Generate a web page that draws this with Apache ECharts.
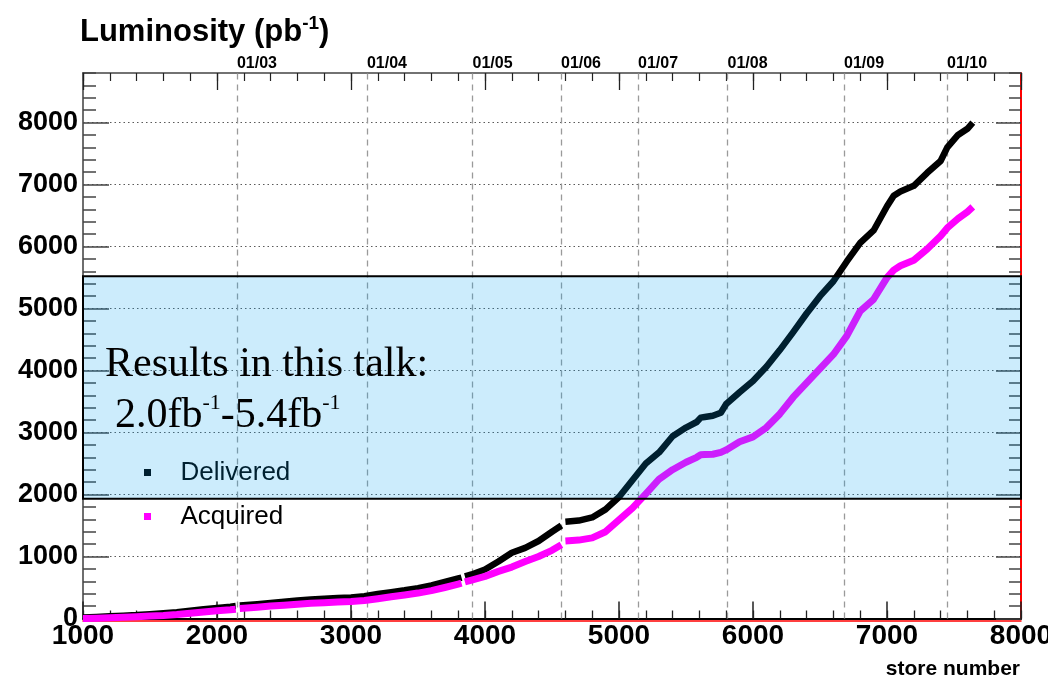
<!DOCTYPE html>
<html>
<head>
<meta charset="utf-8">
<script src="https://cdn.jsdelivr.net/npm/echarts@6/dist/echarts.min.js"></script>
<style>
  html, body { margin: 0; padding: 0; background: #fff; }
  #chart { width: 1048px; height: 680px; }
</style>
</head>
<body>
<div id="chart"></div>
<script>
// Integrated luminosity vs. store number (pb^-1)
const stores = [1000, 1100, 1200, 1300, 1400, 1500, 1600, 1700, 1800, 1900, 2000, 2100, 2140, 2155, 2170,
  2300, 2400, 2500, 2600, 2700, 2800, 2900, 3000, 3100, 3200, 3300, 3400, 3500, 3600, 3700, 3800, 3825, 3838,
  3850, 3900, 4000, 4100, 4200, 4300, 4400, 4500, 4570, 4585, 4600, 4700, 4800, 4900, 5000, 5100, 5200, 5300,
  5400, 5500, 5580, 5610, 5640, 5700, 5760, 5800, 5900, 6000, 6100, 6200, 6300, 6400, 6500, 6600, 6700, 6800,
  6900, 7000, 7050, 7100, 7200, 7300, 7400, 7450, 7530, 7600, 7640];

const delivered = [15, 25, 35, 45, 55, 70, 85, 100, 125, 150, 170, 190, 200, null, 210,
  230, 250, 270, 290, 305, 320, 330, 340, 360, 395, 425, 455, 490, 535, 590, 645, 660, null,
  680, 710, 790, 920, 1060, 1140, 1250, 1400, 1500, null, 1560, 1580, 1630, 1760, 1960, 2230, 2500, 2680,
  2940, 3080, 3170, 3240, 3250, 3270, 3320, 3460, 3650, 3830, 4060, 4330, 4620, 4920, 5200, 5440, 5760, 6060,
  6260, 6650, 6820, 6890, 6980, 7190, 7380, 7600, 7800, 7900, 8000];

const acquired = [0, 5, 12, 20, 30, 40, 50, 65, 85, 105, 125, 140, 150, null, 160,
  180, 200, 215, 230, 245, 255, 265, 275, 290, 320, 350, 380, 410, 450, 500, 555, 570, null,
  590, 620, 680, 760, 830, 920, 1000, 1100, 1190, null, 1250, 1265, 1300, 1400, 1590, 1780, 2010, 2250,
  2400, 2520, 2600, 2640, 2645, 2650, 2680, 2720, 2850, 2930, 3080, 3300, 3570, 3800, 4030, 4260, 4560, 4960,
  5150, 5500, 5620, 5690, 5780, 5960, 6170, 6300, 6450, 6560, 6640];

// Year boundaries (store number at 1 January)
const dateStores = [2149, 3119, 3907, 4567, 5142, 5810, 6679, 7448];
const dateLabels = ['01/03', '01/04', '01/05', '01/06', '01/07', '01/08', '01/09', '01/10'];

// Axis ticks
const xMajorTicks = [1000, 2000, 3000, 4000, 5000, 6000, 7000, 8000];
const yMajorTicks = [0, 1000, 2000, 3000, 4000, 5000, 6000, 7000, 8000];

// Range of the analysed samples (pb^-1)
const resultsBand = [1930, 5520];

const SANS = "'Liberation Sans', Arial, Helvetica, sans-serif";
const SERIF = "'Liberation Serif', 'Times New Roman', serif";

const toPairs = vals => stores.map((s, i) => [s, vals[i] === null ? '-' : vals[i]]);
const plainNumber = v => String(v);

const X_MIN = 1000, X_MAX = 8000, Y_MIN = 0, Y_MAX = 8800;

function xAxisBase(extra) {
  return Object.assign({
    type: 'value', gridIndex: 0, min: X_MIN, max: X_MAX,
    axisLine: { show: false, onZero: false },
    axisTick: { show: false },
    axisLabel: { show: false },
    splitLine: { show: false }
  }, extra);
}
function yAxisBase(extra) {
  return Object.assign({
    type: 'value', gridIndex: 0, min: Y_MIN, max: Y_MAX,
    axisLine: { show: false, onZero: false },
    axisTick: { show: false },
    axisLabel: { show: false },
    splitLine: { show: false }
  }, extra);
}

const chart = echarts.init(document.getElementById('chart'), null, { renderer: 'canvas' });

const option = {
  animation: false,
  backgroundColor: '#ffffff',
  grid: { left: 83, right: 27, top: 73, bottom: 61.5, containLabel: false, outerBoundsMode: 'none' },
  xAxis: [
    // bottom: labels and major ticks
    xAxisBase({
      position: 'bottom', interval: 1000,
      axisLine: { show: true, onZero: false, lineStyle: { color: '#000', width: 2 } },
      axisTick: { show: true, inside: true, length: 17, customValues: xMajorTicks, lineStyle: { color: '#222', width: 1.5 } },
      axisLabel: { show: true, customValues: xMajorTicks, formatter: plainNumber, margin: 4, fontSize: 28, fontWeight: 'bold', fontFamily: SANS, color: '#000' }
    }),
    // bottom: minor ticks
    xAxisBase({
      position: 'bottom', interval: 200,
      axisTick: { show: true, inside: true, length: 8, lineStyle: { color: '#222', width: 1.3 } }
    }),
    // top: major ticks
    xAxisBase({
      position: 'top', interval: 1000,
      axisLine: { show: true, onZero: false, lineStyle: { color: '#444', width: 1.5 } },
      axisTick: { show: true, inside: true, length: 17, customValues: xMajorTicks, lineStyle: { color: '#222', width: 1.3 } }
    }),
    // top: minor ticks
    xAxisBase({
      position: 'top', interval: 200,
      axisTick: { show: true, inside: true, length: 8, lineStyle: { color: '#222', width: 1.2 } }
    }),
    // top: calendar labels
    xAxisBase({
      position: 'top', interval: 1000,
      axisLabel: {
        show: true, customValues: dateStores, align: 'left', margin: 1,
        fontSize: 16, fontWeight: 'bold', fontFamily: SANS, color: '#000',
        formatter: v => dateLabels[dateStores.indexOf(v)] || ''
      }
    }),
    // red frame edge under the bottom axis
    xAxisBase({
      position: 'bottom', offset: 2, interval: 1000,
      axisLine: { show: true, onZero: false, lineStyle: { color: '#ff0000', width: 1.5 } }
    })
  ],
  yAxis: [
    // left: labels, major ticks, dotted grid
    yAxisBase({
      position: 'left', interval: 1000,
      axisLine: { show: true, onZero: false, lineStyle: { color: '#6e6e6e', width: 2 } },
      axisTick: { show: true, inside: true, length: 26, customValues: yMajorTicks, lineStyle: { color: '#444', width: 1.5 } },
      axisLabel: { show: true, customValues: yMajorTicks, formatter: plainNumber, margin: 5, fontSize: 27, fontWeight: 'bold', fontFamily: SANS, color: '#000' },
      splitLine: { show: true, lineStyle: { color: '#5a5a5a', width: 1, type: [1.5, 3] } }
    }),
    // left: minor ticks
    yAxisBase({
      position: 'left', interval: 200,
      axisTick: { show: true, inside: true, length: 13, lineStyle: { color: '#444', width: 1.5 } }
    }),
    // right: major ticks
    yAxisBase({
      position: 'right', interval: 1000,
      axisLine: { show: true, onZero: false, lineStyle: { color: '#ff0000', width: 2 } },
      axisTick: { show: true, inside: true, length: 25, customValues: yMajorTicks, lineStyle: { color: '#444', width: 1.5 } }
    }),
    // right: minor ticks
    yAxisBase({
      position: 'right', interval: 200,
      axisTick: { show: true, inside: true, length: 12, lineStyle: { color: '#444', width: 1.5 } }
    })
  ],
  legend: {
    data: ['Delivered', 'Acquired'],
    orient: 'vertical',
    left: 139, top: 452.5,
    icon: 'path://M0 0H10V10H0Z',
    itemWidth: 56, itemHeight: 7, itemGap: 14,
    symbolKeepAspect: true,
    selectedMode: false,
    textStyle: { fontSize: 26, fontFamily: SANS, color: '#000', lineHeight: 30 }
  },
  series: [
    {
      name: 'Delivered', type: 'line', xAxisIndex: 0, yAxisIndex: 0,
      data: toPairs(delivered), showSymbol: false, connectNulls: false, z: 3,
      color: '#000000',
      lineStyle: { color: '#000000', width: 6.5, cap: 'butt', join: 'round' },
      markLine: {
        silent: true, symbol: ['none', 'none'], z: 1,
        label: { show: false },
        lineStyle: { color: '#9a9a9a', width: 1.3, type: [6, 5] },
        data: dateStores.map(v => ({ xAxis: v }))
      }
    },
    {
      name: 'Acquired', type: 'line', xAxisIndex: 0, yAxisIndex: 0,
      data: toPairs(acquired), showSymbol: false, connectNulls: false, z: 4,
      color: '#ff00ff',
      lineStyle: { color: '#ff00ff', width: 7, cap: 'butt', join: 'round' },
      markArea: {
        silent: true, z: 10,
        itemStyle: { color: 'rgba(0,160,240,0.2)', borderColor: '#000', borderWidth: 2 },
        label: { show: false },
        data: [[{ xAxis: X_MIN, yAxis: resultsBand[0] }, { xAxis: X_MAX, yAxis: resultsBand[1] }]]
      }
    }
  ],
  graphic: {
    elements: [
      {
        type: 'text', left: 80, top: 14, z: 20,
        style: {
          text: '{a|Luminosity (pb}{s|-1}{a|)}',
          rich: {
            a: { fontSize: 31, fontWeight: 'bold', fontFamily: SANS, fill: '#000', lineHeight: 37 },
            s: { fontSize: 19, fontWeight: 'bold', fontFamily: SANS, fill: '#000', lineHeight: 20, verticalAlign: 'top' }
          }
        }
      },
      {
        type: 'text', x: 105, y: 365, z: 20,
        style: {
          text: 'Results in this talk:',
          font: "42px 'Liberation Serif', 'Times New Roman', serif",
          fill: '#000', verticalAlign: 'middle', align: 'left'
        }
      },
      {
        type: 'text', x: 115, y: 416, z: 20,
        style: {
          text: '{n|2.0fb}{s|-1}{n|-5.4fb}{s|-1}',
          verticalAlign: 'middle', align: 'left',
          rich: {
            n: { fontSize: 42, fontFamily: SERIF, fill: '#000', lineHeight: 48 },
            s: { fontSize: 22, fontFamily: SERIF, fill: '#000', lineHeight: 36, verticalAlign: 'top' }
          }
        }
      },
      {
        type: 'text', x: 1020, y: 669, z: 20,
        style: {
          text: 'store number',
          font: "bold 21px 'Liberation Sans', Arial, sans-serif",
          fill: '#000', align: 'right', verticalAlign: 'middle'
        }
      }
    ]
  }
};

chart.setOption(option);
</script>
</body>
</html>
